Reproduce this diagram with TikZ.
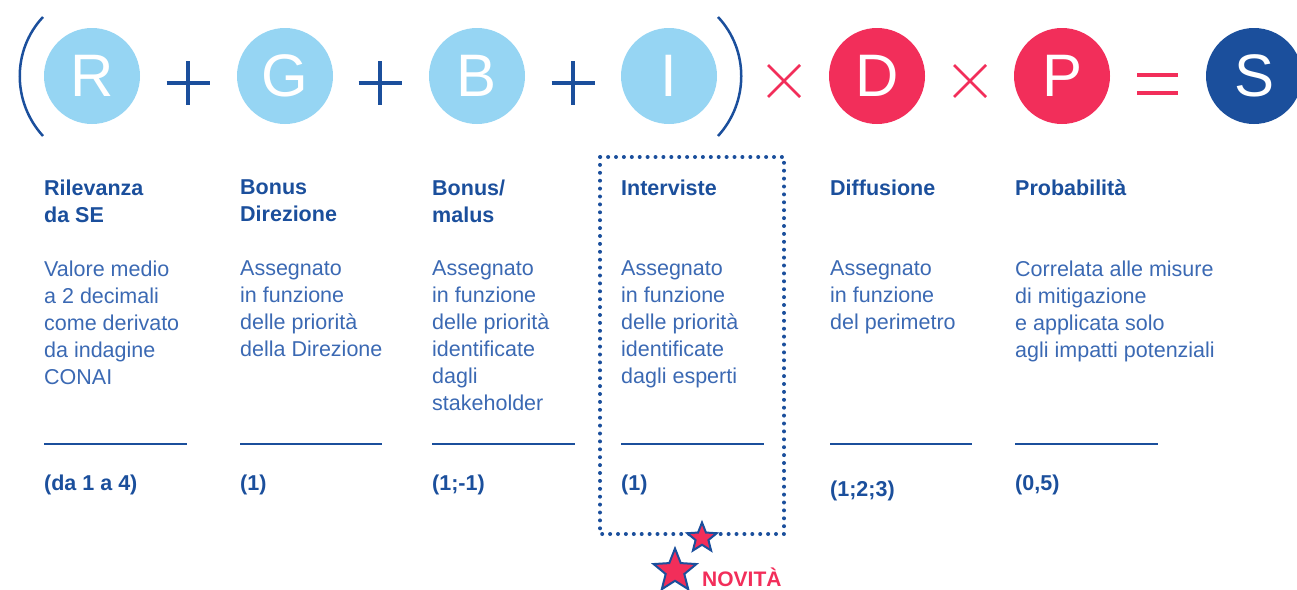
\documentclass[tikz,border=0pt]{standalone}
\usepackage{fontspec}
\setmainfont{Liberation Sans}
\usetikzlibrary{shapes.geometric,positioning}
\definecolor{azzurro}{HTML}{96D5F3}
\definecolor{rosso}{HTML}{F22E5A}
\definecolor{blu}{HTML}{1B4F9C}
\definecolor{testo}{HTML}{3B69B3}

\begin{document}
\begin{tikzpicture}[x=1pt, y=-1pt,
  letter/.style={circle, minimum size=96pt, inner sep=0pt, text=white, font=\fontsize{60}{60}\selectfont},
  title/.style={anchor=north west, inner sep=0pt, align=left, text=blu, font=\fontsize{21.5}{27}\selectfont\bfseries},
  body/.style={anchor=north west, inner sep=0pt, align=left, text=testo, font=\fontsize{21.5}{27}\selectfont},
  value/.style={anchor=base west, inner sep=0pt, text=blu, font=\fontsize{21.5}{27}\selectfont\bfseries},
  rule/.style={blu, line width=2.5pt},
  sign/.style={line width=3.2pt},
  novita/.style={star, star points=5, star point ratio=2.3, fill=rosso, draw=blu, line width=2pt, inner sep=0pt}
]
  \useasboundingbox (0,0) rectangle (1297,589);

  % formula
  \node[letter, fill=azzurro] (R) at (92, 76)   {R};
  \node[letter, fill=azzurro] (G) at (285, 76)  {G};
  \node[letter, fill=azzurro] (B) at (477, 76)  {B};
  \node[letter, fill=azzurro] (I) at (669, 76)  {I};
  \node[letter, fill=rosso]   (D) at (877, 76)  {D};
  \node[letter, fill=rosso]   (P) at (1062, 76) {P};
  \node[letter, fill=blu]     (S) at (1254, 76) {S};

  \draw[blu, line width=2.5pt] (43,17) .. controls (12,50) and (12,102) .. (43,136);
  \draw[blu, line width=2.5pt] (718,17) .. controls (749,50) and (749,102) .. (718,136);
  \foreach \px in {188, 380, 573}
    \draw[sign, blu] (\px-21.5,83) -- (\px+21.5,83) (\px,61) -- (\px,105);
  \foreach \px in {784, 970}
    \draw[sign, rosso, line width=2.5pt] (\px-16,65) -- (\px+16,97) (\px-16,97) -- (\px+16,65);
  \draw[sign, rosso] (1137,75) -- (1178,75) (1137,93) -- (1178,93);

  % colonne
  \node[title] (titR) at (44, 180)  {Rilevanza\\da SE};
  \node[title] (titG) at (240, 180) {Bonus\\Direzione};
  \node[title] (titB) at (432, 180) {Bonus/\\malus};
  \node[title] (titI) at (621, 180) {Interviste};
  \node[title] (titD) at (830, 180) {Diffusione};
  \node[title] (titP) at (1015, 180){Probabilità};

  \node[body] (descR) at (44, 261)  {Valore medio\\a 2 decimali\\come derivato\\da indagine\\CONAI};
  \node[body] (descG) at (240, 261) {Assegnato\\in funzione\\delle priorità\\della Direzione};
  \node[body] (descB) at (432, 261) {Assegnato\\in funzione\\delle priorità\\identificate\\dagli\\stakeholder};
  \node[body] (descI) at (621, 261) {Assegnato\\in funzione\\delle priorità\\identificate\\dagli esperti};
  \node[body] (descD) at (830, 261) {Assegnato\\in funzione\\del perimetro};
  \node[body] (descP) at (1015, 261){Correlata alle misure\\di mitigazione\\e applicata solo\\agli impatti potenziali};

  \draw[rule] (44,444) -- (187,444);
  \draw[rule] (240,444) -- (382,444);
  \draw[rule] (432,444) -- (575,444);
  \draw[rule] (621,444) -- (764,444);
  \draw[rule] (830,444) -- (972,444);
  \draw[rule] (1015,444) -- (1158,444);

  \node[value] (valR) at (44, 490)  {(da 1 a 4)};
  \node[value] (valG) at (240, 490) {(1)};
  \node[value] (valB) at (432, 490) {(1;-1)};
  \node[value] (valI) at (621, 490) {(1)};
  \node[value] (valD) at (830, 496) {(1;2;3)};
  \node[value] (valP) at (1015, 490){(0,5)};

  % novita
  \draw[blu, line width=4pt, dash pattern=on 0pt off 7.9pt, line cap=round] (600,157) rectangle (784,534);
  \node[novita, minimum size=31pt] (star1) at (702, 538) {};
  \node[novita, minimum size=45pt] (star2) at (675, 571) {};
  \node[anchor=west, inner sep=0pt, text=rosso, font=\fontsize{21}{21}\selectfont\bfseries] (nov) at (702, 577) {NOVITÀ};
\end{tikzpicture}
\end{document}
